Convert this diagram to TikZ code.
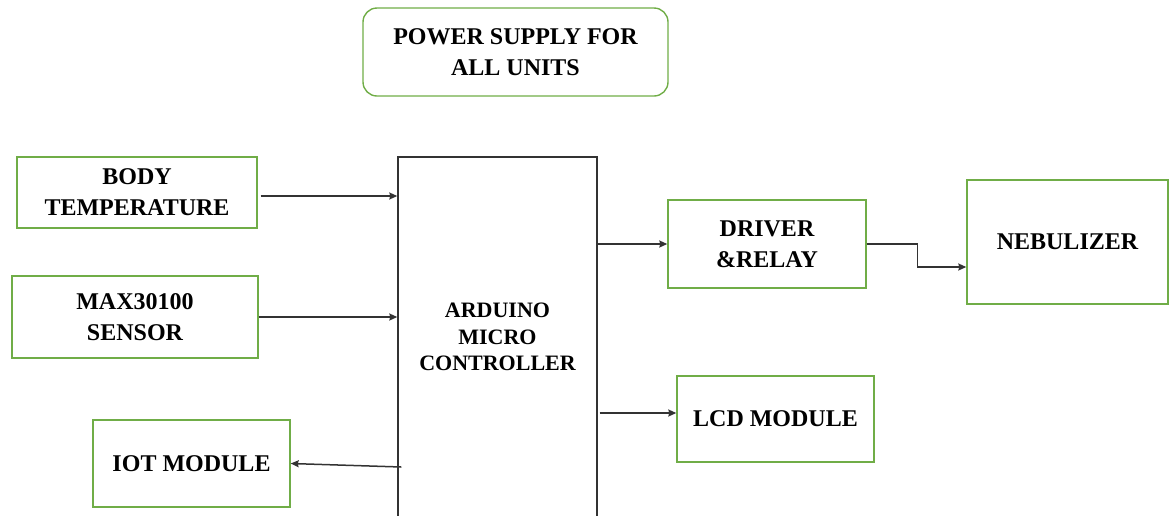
\documentclass[tikz,border=0pt]{standalone}
\usepackage{fontspec}
\setmainfont{Liberation Serif}
\usetikzlibrary{arrows.meta}
\definecolor{unitgreen}{HTML}{70AD47}

\begin{document}
\begin{tikzpicture}[x=1pt,y=-1pt,
  unit/.style={draw=unitgreen, line width=1.4pt, inner sep=0, align=center,
    font=\fontsize{24}{31}\selectfont\bfseries},
  link/.style={draw=black!80, line width=1.5pt, ->, >={Stealth[length=8pt,width=7pt,inset=1pt]}}]
\useasboundingbox (0,0) rectangle (1169,515);
\node[unit, rounded corners=14pt, minimum width=305pt, minimum height=88pt] (power) at (515.5,52) {POWER SUPPLY FOR\\ALL UNITS};
\node[unit, minimum width=240pt, minimum height=71pt] (body) at (137,192.5) {BODY\\TEMPERATURE};
\node[unit, minimum width=246pt, minimum height=82pt] (max) at (135,317) {MAX30100\\SENSOR};
\node[unit, minimum width=197pt, minimum height=87pt] (iot) at (191.5,463.5) {IOT MODULE};
\node[draw=black!80, line width=1.4pt, inner sep=0, align=center, font=\fontsize{22}{26.5}\selectfont\bfseries,
  minimum width=199pt, minimum height=360pt] (ardu) at (497.5,337) {ARDUINO\\MICRO\\CONTROLLER};
\node[unit, minimum width=198pt, minimum height=88pt] (drv) at (767,244) {DRIVER\\\&RELAY};
\node[unit, minimum width=201pt, minimum height=124pt] (neb) at (1067.5,242) {NEBULIZER};
\node[unit, minimum width=197pt, minimum height=86pt] (lcd) at (775.5,419) {LCD MODULE};

\path (body.east) ++(3,3.5) coordinate (bodyout);
\path (ardu.west |- iot.east) ++(4,3.5) coordinate (iotout);
\path (ardu.east |- lcd.west) ++(2,-6) coordinate (lcdin);

\draw[link] (bodyout) -- (bodyout -| ardu.west);
\draw[link] (max.east) -- (max.east -| ardu.west);
\draw[link] (iotout) -- (iot.east);
\draw[link] (ardu.east |- drv.west) -- (drv.west);
\draw[link] (drv.east) -- ++(51,0) |- ([yshift=-25pt]neb.west);
\draw[link] (lcdin) -- (lcdin -| lcd.west);
\end{tikzpicture}
\end{document}
